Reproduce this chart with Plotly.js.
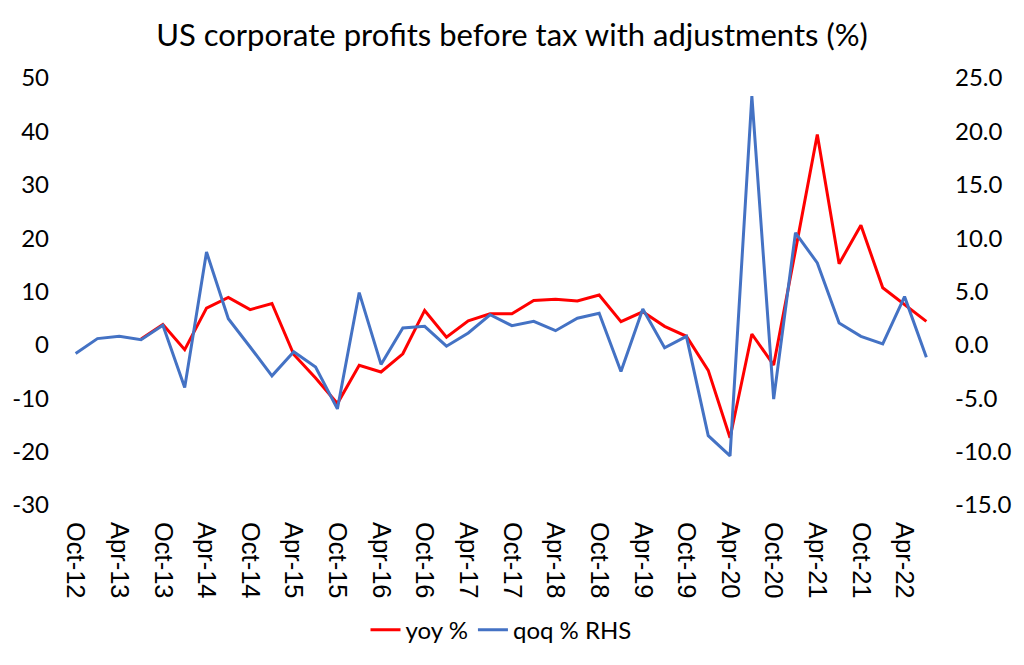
<!DOCTYPE html>
<html>
<head>
<meta charset="utf-8">
<script src="https://cdn.plot.ly/plotly-3.0.1.min.js"></script>
<style>
html,body{margin:0;padding:0;background:#fff;}
#chart{width:1024px;height:665px;}
</style>
</head>
<body>
<div id="chart"></div>
<script>
// Quarterly observations, Oct-12 .. Jul-22
const quarters = [
  "Oct-12","Jan-13","Apr-13","Jul-13","Oct-13","Jan-14","Apr-14","Jul-14",
  "Oct-14","Jan-15","Apr-15","Jul-15","Oct-15","Jan-16","Apr-16","Jul-16",
  "Oct-16","Jan-17","Apr-17","Jul-17","Oct-17","Jan-18","Apr-18","Jul-18",
  "Oct-18","Jan-19","Apr-19","Jul-19","Oct-19","Jan-20","Apr-20","Jul-20",
  "Oct-20","Jan-21","Apr-21","Jul-21","Oct-21","Jan-22","Apr-22","Jul-22"
];
// yoy % (left axis)
const yoy = [
  null, null, null, 1.1, 3.8, -0.9, 6.9, 8.9,
  6.6, 7.75, -1.8, -6.2, -11.0, -3.84, -5.08, -1.67,
  6.45, 1.43, 4.52, 5.82, 5.82, 8.3, 8.55, 8.24,
  9.35, 4.35, 6.2, 3.47, 1.61, -4.77, -17.4, 2.04,
  -3.78, 17.7, 39.4, 15.2, 22.4, 10.7, 7.5, 4.4
];
// qoq % (right axis)
const qoq = [
  -0.8, 0.59, 0.81, 0.49, 1.83, -4.0, 8.7, 2.45,
  -0.2, -2.9, -0.65, -2.07, -6.0, 4.9, -1.83, 1.58,
  1.74, -0.12, 1.12, 2.82, 1.8, 2.2, 1.33, 2.5,
  2.97, -2.5, 3.35, -0.28, 0.8, -8.5, -10.4, 23.3,
  -5.08, 10.5, 7.68, 2.04, 0.8, 0.09, 4.52, -1.15
];
// axis tick labels
const leftTicks = [-30, -20, -10, 0, 10, 20, 30, 40, 50];
const leftTickText = ["-30", "-20", "-10", "0", "10", "20", "30", "40", "50"];
const rightTicks = [-15, -10, -5, 0, 5, 10, 15, 20, 25];
const rightTickText = ["-15.0", "-10.0", "-5.0", "0.0", "5.0", "10.0", "15.0", "20.0", "25.0"];
const xTickLabels = quarters.filter((q, i) => i % 2 === 0);
// tick marks sit half a month before each labelled quarter
const tickMarkPos = xTickLabels.map((q, k) => 2 * k - 1 / 6);

const traces = [
  {
    x: quarters, y: yoy, name: "yoy %", type: "scatter", mode: "lines",
    line: {color: "#ff0000", width: 3}, xaxis: "x", yaxis: "y"
  },
  {
    x: quarters, y: qoq, name: "qoq % RHS", type: "scatter", mode: "lines",
    line: {color: "#4472c4", width: 3}, xaxis: "x", yaxis: "y2"
  }
];

const layout = {
  width: 1024, height: 665,
  margin: {l: 72, r: 94, t: 78, b: 157},
  paper_bgcolor: "#ffffff", plot_bgcolor: "rgba(0,0,0,0)",
  showlegend: true,
  title: {
    text: "US corporate profits before tax with adjustments (%)",
    font: {family: "Lato", size: 31, color: "#000000"},
    x: 0.5, xanchor: "center", y: 1 - 35 / 665, yanchor: "middle"
  },
  xaxis: {
    type: "category",
    range: [-1 / 6, quarters.length - 1 + 1 / 6],
    tickvals: xTickLabels, ticktext: xTickLabels,
    tickangle: 90,
    tickfont: {family: "Liberation Sans", size: 25.5, color: "#000000"},
    showgrid: false, zeroline: false, showline: false, ticks: "",
    ticklabelstandoff: 16
  },
  xaxis2: {
    overlaying: "x", anchor: "free", position: 0.375,
    type: "linear",
    range: [-1 / 6, quarters.length - 1 + 1 / 6],
    tickvals: tickMarkPos, showticklabels: false,
    ticks: "outside", ticklen: 9, tickwidth: 1.5, tickcolor: "#d9d9d9",
    showline: true, linecolor: "#d9d9d9", linewidth: 1.5,
    showgrid: false, zeroline: false, layer: "below traces"
  },
  yaxis: {
    range: [-30, 50], tickvals: leftTicks, ticktext: leftTickText,
    tickfont: {family: "Lato", size: 24, color: "#000000"},
    showgrid: false, zeroline: false, showline: false, ticks: "",
    ticklabelstandoff: 22
  },
  yaxis2: {
    overlaying: "y", side: "right",
    range: [-15, 25], tickvals: rightTicks, ticktext: rightTickText,
    tickfont: {family: "Lato", size: 24, color: "#000000"},
    showgrid: false, zeroline: false, showline: false, ticks: "",
    ticklabelstandoff: 24
  },
  legend: {
    orientation: "h", x: 0.5, xanchor: "center",
    y: -0.293, yanchor: "middle",
    font: {family: "Lato", size: 24, color: "#000000"},
    itemwidth: 30, bgcolor: "rgba(0,0,0,0)"
  }
};

Plotly.newPlot("chart", traces, layout, {displayModeBar: false, staticPlot: true});
</script>
</body>
</html>
